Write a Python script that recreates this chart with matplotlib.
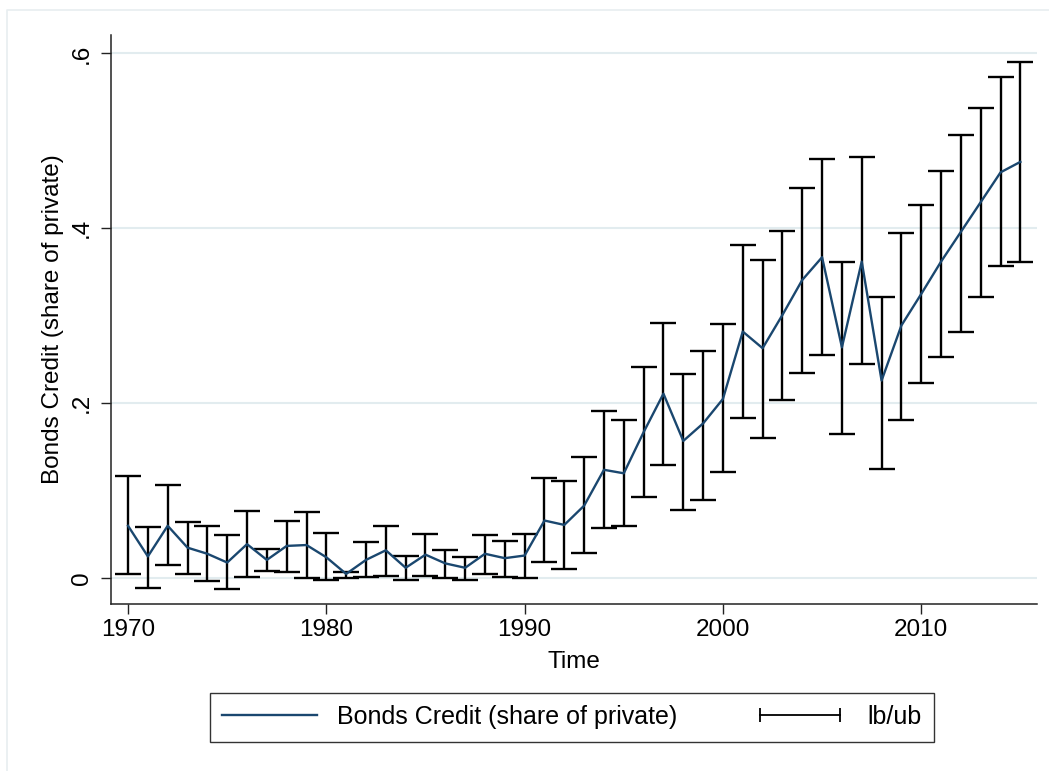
import numpy as np
import matplotlib
matplotlib.use("Agg")
import matplotlib.pyplot as plt
from matplotlib.lines import Line2D
from matplotlib.legend_handler import HandlerLine2D

plt.rcParams['font.family'] = ['Liberation Sans', 'DejaVu Sans']

# Bonds credit (share of private) with lower/upper bounds
years = np.arange(1970, 2016)
est = np.array([0.060, 0.025, 0.060, 0.035, 0.028, 0.018, 0.039, 0.021, 0.037, 0.038,
                0.024, 0.005, 0.021, 0.032, 0.012, 0.027, 0.017, 0.012, 0.028, 0.023,
                0.026, 0.066, 0.061, 0.083, 0.124, 0.120, 0.167, 0.211, 0.157, 0.177,
                0.205, 0.282, 0.263, 0.301, 0.341, 0.367, 0.264, 0.362, 0.226, 0.289,
                0.325, 0.362, 0.396, 0.430, 0.464, 0.476])
ub = np.array([0.117, 0.059, 0.107, 0.064, 0.060, 0.049, 0.077, 0.034, 0.066, 0.076,
               0.052, 0.007, 0.042, 0.060, 0.025, 0.051, 0.032, 0.024, 0.050, 0.043,
               0.051, 0.115, 0.111, 0.139, 0.191, 0.181, 0.242, 0.292, 0.234, 0.260,
               0.291, 0.381, 0.364, 0.397, 0.446, 0.479, 0.362, 0.482, 0.322, 0.395,
               0.427, 0.466, 0.507, 0.537, 0.573, 0.590])
lb = np.array([0.005, -0.011, 0.015, 0.005, -0.003, -0.012, 0.002, 0.008, 0.007, 0.000,
               -0.002, 0.000, 0.001, 0.003, -0.002, 0.003, 0.000, -0.002, 0.005, 0.001,
               0.000, 0.019, 0.011, 0.029, 0.058, 0.060, 0.093, 0.130, 0.078, 0.090,
               0.122, 0.183, 0.160, 0.204, 0.235, 0.255, 0.165, 0.245, 0.125, 0.181,
               0.223, 0.253, 0.282, 0.322, 0.357, 0.362])

xticks = [1970, 1980, 1990, 2000, 2010]
yticks = [0, 0.2, 0.4, 0.6]
ytick_labels = ['0', '.2', '.4', '.6']

navy = '#1a476f'
grid_col = '#e2ecef'

fig = plt.figure(figsize=(10.49, 7.71), dpi=100)
ax = fig.add_axes([0.1058, 0.2166, 0.8828, 0.738])

# light outer frame (graph region)
fx, fy = 7 / 1049, 1 - 10 / 771
fig.add_artist(Line2D([fx, fx, 1.0], [0.0, fy, fy], transform=fig.transFigure,
                      color='#e8eef0', lw=1.2))

for yv in yticks:
    ax.axhline(yv, color=grid_col, lw=1.5, zorder=0)

mid = (ub + lb) / 2
half = (ub - lb) / 2
ax.errorbar(years, mid, yerr=half, fmt='none', ecolor='black',
            elinewidth=1.7, capsize=9.5, capthick=1.7, zorder=2)
ax.plot(years, est, color=navy, lw=1.7, zorder=3)

ax.set_xlim(1969.14, 2015.84)
ax.set_ylim(-0.0294, 0.621)
ax.set_xticks(xticks)
ax.set_yticks(yticks)
ax.set_yticklabels(ytick_labels, rotation=90, va='center')

for s in ['top', 'right']:
    ax.spines[s].set_visible(False)
for s in ['left', 'bottom']:
    ax.spines[s].set_color('#222222')
    ax.spines[s].set_linewidth(1.1)

ax.tick_params(axis='both', direction='out', length=7, width=1.0,
               color='#222222', labelsize=17.5)
ax.tick_params(axis='x', pad=4)
ax.tick_params(axis='y', pad=6)

ax.set_xlabel('Time', fontsize=17.5, labelpad=7)
ax.set_ylabel('Bonds Credit (share of private)', fontsize=17.5, labelpad=5)

line_h = Line2D([], [], color=navy, lw=1.7)
err_h = Line2D([], [], color='black', lw=1.3, marker='|', markersize=10,
               markeredgewidth=1.3)
leg = fig.legend([line_h, err_h], ['Bonds Credit (share of private)', 'lb/ub'],
                 handler_map={err_h: HandlerLine2D(numpoints=2)},
                 loc='center', bbox_to_anchor=(572 / 1049, 1 - 717 / 771),
                 ncol=2, fontsize=18, frameon=True, fancybox=False,
                 edgecolor='black', handlelength=3.8, handletextpad=0.8,
                 columnspacing=3.0, borderpad=0.5)
leg.get_frame().set_linewidth(1.0)

fig.savefig('out.png', dpi=100, facecolor='white')
